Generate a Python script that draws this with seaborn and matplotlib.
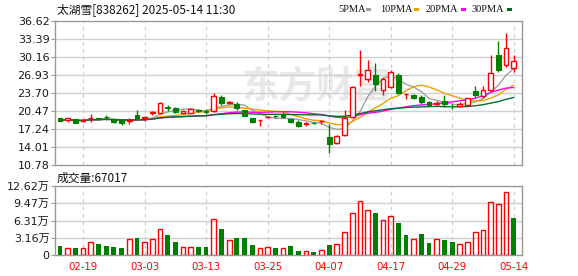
import numpy as np
import pandas as pd
import matplotlib
matplotlib.use("Agg")
import matplotlib.pyplot as plt
import seaborn as sns

# ---------------- data ----------------
dates = ['02-14', '02-17', '02-18', '02-19', '02-20', '02-21', '02-24', '02-25', '02-26', '02-27',
         '02-28', '03-03', '03-04', '03-05', '03-06', '03-07', '03-10', '03-11', '03-12', '03-13',
         '03-14', '03-17', '03-18', '03-19', '03-20', '03-21', '03-24', '03-25', '03-26', '03-27',
         '03-28', '03-31', '04-01', '04-02', '04-03', '04-07', '04-08', '04-09', '04-10', '04-11',
         '04-14', '04-15', '04-16', '04-17', '04-18', '04-21', '04-22', '04-23', '04-24', '04-25',
         '04-28', '04-29', '04-30', '05-06', '05-07', '05-08', '05-09', '05-12', '05-13', '05-14']
label_dates = ['02-19', '03-03', '03-13', '03-25', '04-07', '04-17', '04-29', '05-14']

open_ = [19.15, 18.85, 19.00, 18.70, 19.20, 19.15, 19.45, 19.00, 18.85, 18.75,
         19.70, 19.25, 20.10, 20.15, 21.10, 21.05, 20.15, 20.15, 20.60, 20.50,
         20.45, 22.90, 21.95, 21.65, 20.60, 19.20, 18.80, 19.35, 19.60, 19.90,
         18.95, 18.55, 18.05, 18.35, 18.60, 15.85, 14.67, 16.15, 19.40, 26.90,
         26.20, 26.85, 24.15, 24.80, 26.90, 23.45, 23.30, 23.00, 22.00, 21.80,
         22.25, 21.40, 21.35, 21.50, 24.00, 23.15, 24.20, 30.50, 28.70, 28.10]
high = [19.30, 19.30, 19.10, 18.90, 20.00, 19.20, 19.70, 19.10, 18.95, 19.30,
        20.60, 19.50, 20.50, 22.10, 21.50, 21.20, 20.60, 20.80, 20.85, 20.90,
        23.65, 23.30, 22.30, 22.10, 20.70, 19.30, 18.90, 19.55, 19.80, 20.30,
        19.10, 18.80, 18.45, 18.45, 18.85, 18.10, 16.10, 20.60, 24.90, 31.40,
        29.60, 29.05, 26.60, 27.80, 27.20, 23.55, 23.50, 23.30, 22.25, 22.30,
        23.40, 21.70, 22.10, 22.80, 24.90, 25.00, 30.50, 33.00, 34.40, 30.50]
low = [18.60, 18.50, 18.30, 18.50, 18.50, 18.90, 18.85, 18.25, 18.00, 18.20,
       19.00, 18.65, 19.70, 19.90, 20.55, 20.20, 20.10, 20.10, 20.35, 19.95,
       20.35, 21.50, 21.70, 20.70, 19.50, 18.35, 17.80, 19.15, 19.30, 19.20,
       18.35, 17.55, 17.85, 18.10, 18.20, 12.95, 14.60, 16.00, 19.30, 25.00,
       25.60, 24.00, 23.30, 24.60, 23.60, 22.70, 22.60, 21.65, 21.40, 21.35,
       21.20, 20.75, 21.30, 21.45, 23.00, 22.80, 24.10, 27.50, 28.40, 27.50]
close = [18.75, 19.20, 18.35, 18.85, 19.30, 19.05, 19.35, 18.50, 18.40, 18.85,
         19.05, 19.35, 20.25, 21.85, 21.00, 20.35, 20.50, 20.75, 20.40, 20.30,
         23.15, 21.90, 22.05, 20.95, 19.55, 18.45, 18.85, 19.45, 19.50, 19.45,
         18.45, 17.80, 18.30, 18.25, 18.70, 14.55, 16.03, 19.15, 24.80, 27.05,
         27.90, 25.40, 26.25, 27.50, 23.70, 23.50, 22.85, 22.10, 21.50, 21.90,
         21.65, 21.30, 21.65, 22.75, 23.40, 24.30, 27.20, 27.80, 31.70, 29.40]
# volume in 万 (10k)
volume = [1.59, 1.34, 1.22, 1.22, 2.32, 1.95, 1.59, 1.40, 1.22, 2.99,
          3.05, 2.32, 2.99, 4.82, 3.60, 2.32, 1.52, 1.52, 1.40, 1.40,
          6.65, 4.70, 2.80, 3.05, 3.05, 1.77, 1.34, 1.52, 1.22, 1.34,
          1.59, 0.67, 0.79, 0.49, 0.98, 1.77, 1.95, 4.27, 7.74, 9.94,
          8.29, 7.62, 6.46, 7.20, 5.79, 3.60, 2.99, 3.78, 2.13, 2.99,
          2.68, 2.32, 1.95, 2.44, 4.27, 4.63, 9.76, 9.39, 11.59, 6.70]
vol_dir = ['d', 'u', 'd', 'u', 'u', 'd', 'd', 'd', 'd', 'u',
           'd', 'u', 'u', 'u', 'd', 'd', 'u', 'u', 'd', 'd',
           'u', 'd', 'u', 'd', 'd', 'd', 'u', 'u', 'd', 'u',
           'd', 'd', 'u', 'd', 'u', 'd', 'u', 'u', 'u', 'u',
           'u', 'd', 'u', 'u', 'd', 'd', 'u', 'd', 'd', 'u',
           'd', 'd', 'u', 'u', 'u', 'u', 'u', 'u', 'u', 'd']
price_ticks = [10.78, 14.01, 17.24, 20.47, 23.70, 26.93, 30.16, 33.39, 36.62]
vol_ticks = [0, 3.155, 6.31, 9.465, 12.62]
vol_tick_labels = ['0', '3.16万', '6.31万', '9.47万', '12.62万']
ma_periods = [5, 10, 20, 30]
ma_names = ['5PMA', '10PMA', '20PMA', '30PMA']
ma_colors = ['#a0a0a0', '#f0a000', '#ff00ff', '#006f2a']
title = '太湖雪[838262] 2025-05-14 11:30'
vol_title = '成交量:67017'

# ---------------- style ----------------
sns.set_theme(style='white')
plt.rcParams['font.family'] = ['DejaVu Sans', 'Noto Sans CJK SC']
RED = '#ff0000'
GREEN = '#008000'
GRID = '#d0d0d0'
FRAME = '#999999'

W, H = 578, 276
fig = plt.figure(figsize=(W / 100, H / 100), dpi=100)
fig.patch.set_facecolor('white')


def px(x0, y0, x1, y1):
    return [x0 / W, 1 - y1 / H, (x1 - x0) / W, (y1 - y0) / H]


axp = fig.add_axes(px(55, 21, 522, 165))
axv = fig.add_axes(px(55, 186, 522, 255))

idx = np.arange(len(dates))
o = np.array(open_)
c = np.array(close)
hi = np.array(high)
lo = np.array(low)
up = c >= o
body_lo = np.minimum(o, c)
body_hi = np.maximum(o, c)
body_h = np.maximum(body_hi - body_lo, 0.03)
bw = 0.62

# watermark
axp.text(0.56, 0.54, '东方财富', transform=axp.transAxes, ha='center', va='center',
         fontsize=27, color='#e8e8e8', fontweight='bold',
         family=['Noto Sans CJK SC', 'DejaVu Sans'], zorder=0)

# moving averages with seaborn
cs = pd.Series(c)
for n, col in zip(ma_periods, ma_colors):
    ma = cs.rolling(n, min_periods=1).mean()
    sns.lineplot(x=idx, y=ma.values, ax=axp, color=col, linewidth=1.0, zorder=3)

# candlesticks
axp.vlines(idx[up], body_hi[up], hi[up], color=RED, linewidth=1, zorder=4)
axp.vlines(idx[up], lo[up], body_lo[up], color=RED, linewidth=1, zorder=4)
axp.vlines(idx[~up], lo[~up], hi[~up], color=GREEN, linewidth=1, zorder=4)
axp.bar(idx[up], body_h[up], bottom=body_lo[up], width=bw, facecolor='white',
        edgecolor=RED, linewidth=1, zorder=5)
axp.bar(idx[~up], body_h[~up], bottom=body_lo[~up], width=bw, facecolor=GREEN,
        edgecolor=GREEN, linewidth=0.8, zorder=5)

# volume bars with seaborn
vdf = pd.DataFrame({'i': idx, 'vol': volume, 'dir': vol_dir})
order = list(idx)
sns.barplot(data=vdf[vdf['dir'] == 'd'], x='i', y='vol', order=order, color=GREEN,
            saturation=1, width=bw, errorbar=None, ax=axv, linewidth=0, zorder=3)
sns.barplot(data=vdf[vdf['dir'] == 'u'], x='i', y='vol', order=order, color=RED,
            fill=False, width=bw, errorbar=None, ax=axv, linewidth=1, zorder=3)

label_idx = [dates.index(d) for d in label_dates]

for ax in (axp, axv):
    ax.set_xlim(-0.65, 60.08)
    ax.set_xlabel('')
    ax.set_ylabel('')
    for s in ax.spines.values():
        s.set_visible(True)
        s.set_color(FRAME)
        s.set_linewidth(1)
    ax.set_facecolor('white')
    for k in label_idx:
        ax.axvline(k, color=GRID, linestyle=(0, (3, 3)), linewidth=0.9, zorder=1)
    ax.tick_params(axis='y', which='both', left=True, length=3, width=0.8, color=FRAME,
                   labelsize=8, pad=1, labelcolor='#1a1a1a')

axp.set_ylim(price_ticks[0], price_ticks[-1])
axp.set_yticks(price_ticks)
axp.set_yticklabels([f'{t:.2f}' for t in price_ticks])
for t in price_ticks[1:-1]:
    axp.axhline(t, color=GRID, linewidth=1, zorder=1)
axp.set_xticks([])

axv.set_ylim(0, vol_ticks[-1])
axv.set_yticks(vol_ticks)
axv.set_yticklabels(vol_tick_labels)
for t in vol_ticks[1:-1]:
    axv.axhline(t, color=GRID, linewidth=1, zorder=1)
axv.set_xticks(label_idx)
axv.set_xticklabels(label_dates)
axv.tick_params(axis='x', length=0, pad=5, labelsize=7.3, labelcolor=RED)
axv.set_xlim(-0.65, 60.08)

# titles
fig.text(57 / W, 1 - 10 / H, title, ha='left', va='center', fontsize=8.5,
         family=['Noto Sans CJK SC', 'DejaVu Sans'], color='#111111')
fig.text(57 / W, 1 - 178 / H, vol_title, ha='left', va='center', fontsize=8.5,
         family=['Noto Sans CJK SC', 'DejaVu Sans'], color='#111111')

# legend
leg_x = [338, 380, 426, 472]
mark_x = [366, 414, 461, 507]
for name, col, lx, mx in zip(ma_names, ma_colors, leg_x, mark_x):
    fig.text(lx / W, 1 - 9.5 / H, name, ha='left', va='center', fontsize=7.5,
             family='Liberation Serif', color='#111111')
    fig.patches.append(plt.Rectangle((mx / W, 1 - 11 / H), 5 / W, 3 / H,
                                     transform=fig.transFigure, facecolor=col,
                                     edgecolor='none', figure=fig))

fig.savefig('out.png', dpi=100, facecolor='white')
